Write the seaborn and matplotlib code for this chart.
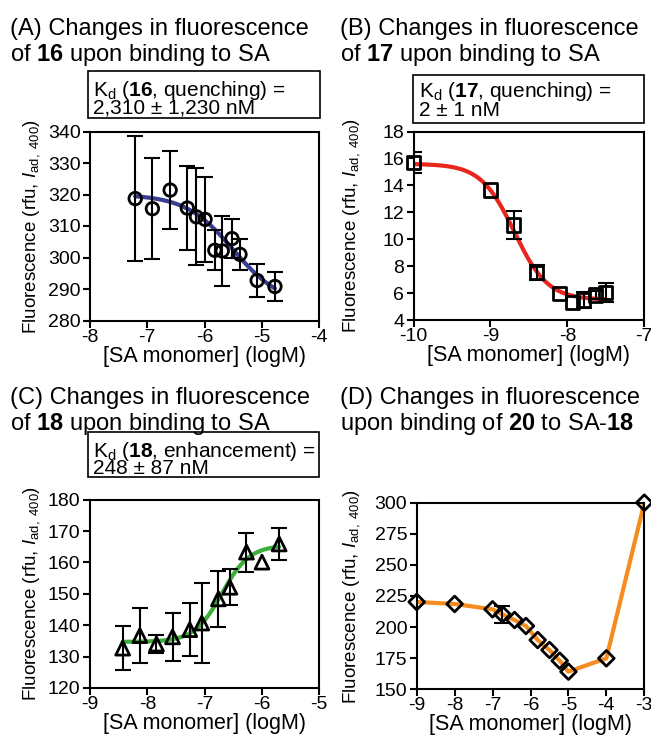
import numpy as np
import matplotlib
matplotlib.use('Agg')
import matplotlib.pyplot as plt
from matplotlib.patches import Rectangle
import seaborn as sns

# panel A: compound 16, quenching
a_x = [-7.21, -6.91, -6.60, -6.30, -6.14, -5.99, -5.82, -5.69, -5.52, -5.38, -5.08, -4.77]
a_y = [318.7, 315.5, 321.4, 315.7, 312.9, 312.1, 302.3, 302.1, 306.0, 301.0, 292.7, 290.8]
a_err = [19.8, 16.0, 12.4, 13.2, 15.4, 13.4, 6.3, 11.0, 6.3, 4.9, 5.2, 4.7]
a_fit = dict(top=320.0, bottom=285.0, logec50=-5.5, hill=1.04, lo=-7.21, hi=-4.77)

# panel B: compound 17, quenching
b_x = [-10.0, -9.0, -8.70, -8.40, -8.10, -7.93, -7.79, -7.63, -7.50]
b_y = [15.70, 13.66, 11.06, 7.54, 5.98, 5.31, 5.48, 5.86, 6.03]
b_err = [0.75, 0.0, 1.07, 0.55, 0.0, 0.0, 0.6, 0.3, 0.7]
b_fit = dict(top=15.6, bottom=5.5, logec50=-8.69, hill=2.0, lo=-10.0, hi=-7.5)

# panel C: compound 18, enhancement
c_x = [-8.43, -8.13, -7.84, -7.56, -7.26, -7.05, -6.76, -6.56, -6.27, -6.00, -5.70]
c_y = [132.7, 136.7, 134.0, 136.3, 138.6, 140.7, 148.4, 152.1, 163.3, 160.1, 165.9]
c_err = [7.0, 8.7, 3.0, 7.7, 8.5, 12.7, 9.0, 5.7, 6.2, 0.0, 5.2]
c_fit = dict(top=134.7, bottom=165.5, logec50=-6.7, hill=1.8, lo=-8.43, hi=-5.70)

# panel D: 20 binding to SA-18
d_x = [-9.0, -8.0, -7.0, -6.74, -6.42, -6.12, -5.81, -5.50, -5.23, -5.0, -4.0, -3.0]
d_y = [220.2, 218.6, 214.3, 210.3, 205.7, 200.9, 189.6, 181.6, 173.0, 164.2, 174.9, 300.0]
d_err = [0, 0, 0, 6.7, 0, 0, 0, 0, 0, 0, 0, 0]

W, H = 651, 741
TITLE_FS = 17
BOX_FS = 15
LABEL_FS = 15.5
YLABEL_FS = 13.5
TICK_FS = 14

sns.set_style('ticks')
plt.rcParams['font.family'] = ['Liberation Sans', 'DejaVu Sans']
plt.rcParams['mathtext.fontset'] = 'custom'
plt.rcParams['mathtext.rm'] = 'Liberation Sans'
plt.rcParams['mathtext.it'] = 'Liberation Sans:italic'
plt.rcParams['mathtext.bf'] = 'Liberation Sans:bold'
plt.rcParams['axes.unicode_minus'] = False
for k in ['text.color', 'axes.labelcolor', 'xtick.color', 'ytick.color', 'axes.edgecolor']:
    plt.rcParams[k] = 'black'


def fig_rect(l, t, r, b):
    return [l / W, 1 - b / H, (r - l) / W, (b - t) / H]


def hill_curve(fit):
    xs = np.linspace(fit['lo'], fit['hi'], 300)
    ys = fit['bottom'] + (fit['top'] - fit['bottom']) / (1 + 10 ** (fit['hill'] * (xs - fit['logec50'])))
    return xs, ys


def draw_panel(ax, x, y, err, marker, ms, color, xlim, ylim, yticks, fit=None, label_x=-0.21):
    x, y, err = np.array(x), np.array(y), np.array(err)
    if fit is not None:
        xs, ys = hill_curve(fit)
        sns.lineplot(x=xs, y=ys, color=color, linewidth=3, ax=ax, zorder=2)
    else:
        sns.lineplot(x=x, y=y, color=color, linewidth=3, ax=ax, sort=False, zorder=2)
    m = err > 0
    ax.errorbar(x[m], y[m], yerr=err[m], fmt='none', ecolor='black',
                elinewidth=1.5, capsize=5.5, capthick=1.5, zorder=3)
    sns.scatterplot(x=x, y=y, marker=marker, s=ms ** 2, ax=ax, zorder=4)
    pts = ax.collections[-1]
    pts.set_facecolor('none')
    pts.set_edgecolor('black')
    pts.set_linewidth(2)
    pts.set_clip_on(False)

    ax.set_xlim(*xlim)
    ax.set_xticks(np.arange(xlim[0], xlim[1] + 1))
    ax.set_ylim(*ylim)
    ax.set_yticks(yticks)
    ax.tick_params(labelsize=TICK_FS, length=4.8, width=1.5, color='black')
    ax.tick_params(axis='x', pad=1)
    ax.tick_params(axis='y', pad=2)
    for s in ax.spines.values():
        s.set_linewidth(1.5)
        s.set_color('black')
    ax.set_xlabel('[SA monomer] (logM)', fontsize=LABEL_FS, labelpad=0)
    ax.set_ylabel(r'Fluorescence (rfu, $I_{\mathrm{ad,\ 400}}$)', fontsize=YLABEL_FS)
    ax.yaxis.set_label_coords(label_x, 0.5)


def text_px(fig, x, y, s, fs):
    fig.text(x / W, 1 - y / H, s, fontsize=fs, ha='left', va='baseline')


def box_px(fig, l, t, r, b):
    fig.add_artist(Rectangle((l / W, 1 - b / H), (r - l) / W, (b - t) / H,
                             transform=fig.transFigure, fill=False, lw=1.2, ec='black'))


fig = plt.figure(figsize=(W / 100, H / 100), dpi=100)

ax_a = fig.add_axes(fig_rect(90, 131.5, 319, 320.5))
draw_panel(ax_a, a_x, a_y, a_err, 'o', 9, '#3a3d94', (-8, -4), (280, 340),
           np.arange(280, 341, 10), fit=a_fit, label_x=-0.21)

ax_b = fig.add_axes(fig_rect(413.5, 131.5, 644.3, 320))
draw_panel(ax_b, b_x, b_y, b_err, 's', 9.5, '#e8261c', (-10, -7), (4, 18),
           np.arange(4, 19, 2), fit=b_fit, label_x=-0.223)

ax_c = fig.add_axes(fig_rect(90, 499.7, 319.3, 688))
draw_panel(ax_c, c_x, c_y, c_err, '^', 10, '#3cae3a', (-9, -5), (120, 180),
           np.arange(120, 181, 10), fit=c_fit, label_x=-0.21)

ax_d = fig.add_axes(fig_rect(416.7, 502.7, 644.3, 689.3))
draw_panel(ax_d, d_x, d_y, d_err, 'D', 8, '#f58c1f', (-9, -3), (150, 300),
           np.arange(150, 301, 25), fit=None, label_x=-0.24)

# panel titles
text_px(fig, 10, 35, '(A) Changes in fluorescence', TITLE_FS)
text_px(fig, 10, 61, r'of $\mathbf{16}$ upon binding to SA', TITLE_FS)
text_px(fig, 340, 35, '(B) Changes in fluorescence', TITLE_FS)
text_px(fig, 340, 61, r'of $\mathbf{17}$ upon binding to SA', TITLE_FS)
text_px(fig, 10, 404, '(C) Changes in fluorescence', TITLE_FS)
text_px(fig, 10, 430, r'of $\mathbf{18}$ upon binding to SA', TITLE_FS)
text_px(fig, 340, 404, '(D) Changes in fluorescence', TITLE_FS)
text_px(fig, 340, 430, r'upon binding of $\mathbf{20}$ to SA-$\mathbf{18}$', TITLE_FS)

# Kd boxes
box_px(fig, 88, 71, 320, 118)
text_px(fig, 93, 96, r'K$_\mathrm{d}$ ($\mathbf{16}$, quenching) =', BOX_FS)
text_px(fig, 93, 114, '2,310 ± 1,230 nM', BOX_FS)
box_px(fig, 413, 75, 644, 123)
text_px(fig, 419, 97, r'K$_\mathrm{d}$ ($\mathbf{17}$, quenching) =', BOX_FS)
text_px(fig, 419, 116, '2 ± 1 nM', BOX_FS)
box_px(fig, 88, 432, 319, 477)
text_px(fig, 93, 457, r'K$_\mathrm{d}$ ($\mathbf{18}$, enhancement) =', BOX_FS)
text_px(fig, 93, 474, '248 ± 87 nM', BOX_FS)

fig.savefig('out.png', dpi=100)
